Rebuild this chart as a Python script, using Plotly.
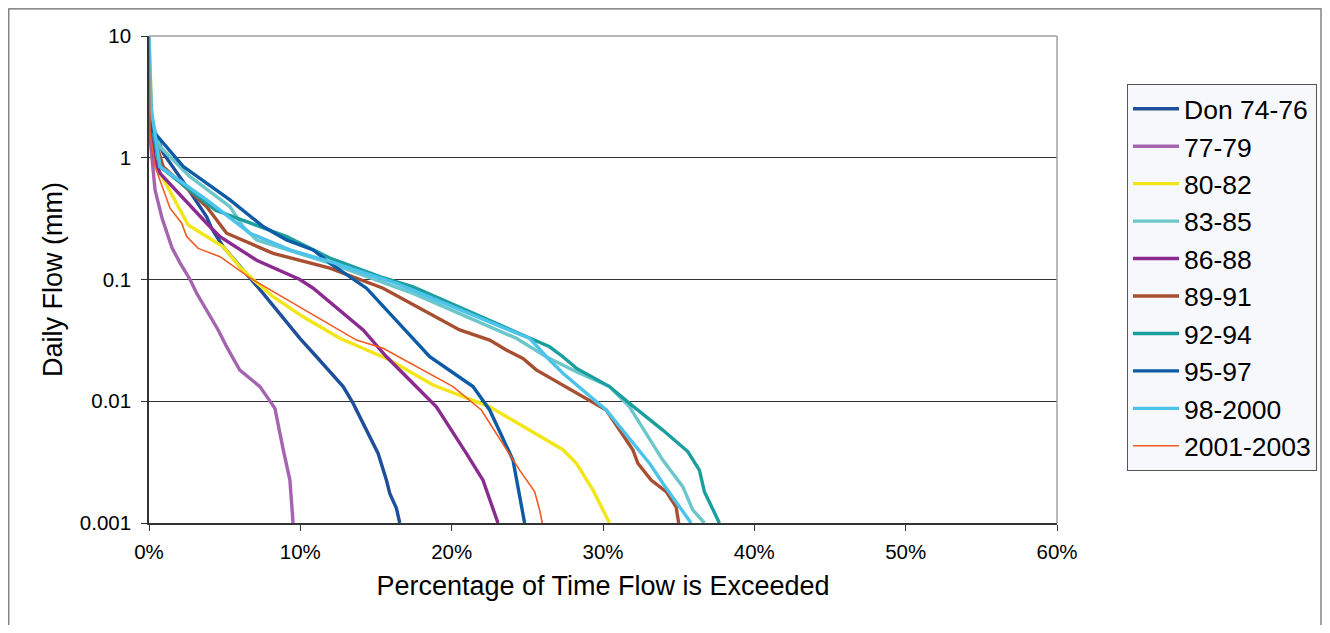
import plotly.graph_objects as go

# Flow duration curves: x = % of time flow is exceeded, y = daily flow (mm)
series_names = ["Don 74-76", "77-79", "80-82", "83-85", "86-88",
                "89-91", "92-94", "95-97", "98-2000", "2001-2003"]

don7476_x = [0, 0.18, 0.51, 0.94, 2.49, 3.81, 4.14, 4.9, 7.54, 9.97, 11.07, 12.83, 13.49, 15.14, 15.69, 15.91, 16.35, 16.57]
don7476_y = [3.5, 1.69, 1.49, 1.09, 0.578, 0.328, 0.263, 0.186, 0.077, 0.0329, 0.0232, 0.0132, 0.0096, 0.00373, 0.00225, 0.00175, 0.00132, 0.001]

s7779_x = [0, 0.07, 0.40, 0.86, 1.19, 1.52, 2.05, 2.71, 3.15, 4.57, 5.13, 6.0, 7.33, 8.32, 8.87, 9.31, 9.52]
s7779_y = [1.8, 1.48, 0.543, 0.32, 0.241, 0.182, 0.137, 0.1, 0.077, 0.0385, 0.028, 0.018, 0.0132, 0.00875, 0.004, 0.00225, 0.001]

s8082_x = [0, 0.1, 0.25, 0.51, 2.59, 4.9, 6.0, 6.88, 8.2, 10.18, 12.61, 15.91, 18.77, 22.51, 27.35, 28.23, 29.33, 30.43]
s8082_y = [10, 4.0, 1.3, 0.845, 0.28, 0.186, 0.127, 0.1, 0.0722, 0.0494, 0.0329, 0.0218, 0.0136, 0.009, 0.004, 0.0031, 0.00187, 0.001]

s8385_x = [0, 0.2, 0.73, 2.71, 5.35, 6.22, 7.11, 11.95, 17.45, 24.27, 26.25, 28.23, 30.43, 31.75, 33.95, 35.27, 35.93, 36.7]
s8385_y = [6.0, 2.0, 1.23, 0.70, 0.396, 0.272, 0.211, 0.136, 0.077, 0.0329, 0.0232, 0.0175, 0.0132, 0.009, 0.00329, 0.00199, 0.00128, 0.001]

s8688_x = [0, 0.15, 0.35, 0.73, 3.81, 4.69, 7.11, 9.97, 10.85, 14.15, 15.69, 18.99, 20.97, 22.07, 23.06]
s8688_y = [3.5, 1.6, 1.0, 0.745, 0.29, 0.225, 0.144, 0.1, 0.0848, 0.0385, 0.0232, 0.009, 0.00373, 0.00225, 0.001]

s8991_x = [0, 0.4, 0.94, 3.81, 5.13, 8.2, 11.95, 15.47, 20.53, 22.51, 23.61, 24.71, 25.59, 29.55, 30.21, 31.97, 32.3, 33.18, 34.17, 34.83, 35.0]
s8991_y = [3.0, 1.4, 0.845, 0.396, 0.24, 0.164, 0.124, 0.0848, 0.0385, 0.0318, 0.0264, 0.0225, 0.0181, 0.0096, 0.00848, 0.004, 0.0031, 0.00225, 0.00181, 0.00136, 0.001]

s9294_x = [0, 0.2, 0.7, 2.7, 4.4, 6.4, 9.1, 11.95, 15.3, 17.45, 24.27, 26.47, 27.35, 28.23, 30.43, 31.75, 33.95, 35.6, 36.37, 36.7, 37.69]
s9294_y = [4.0, 1.8, 0.85, 0.54, 0.37, 0.30, 0.225, 0.15, 0.105, 0.087, 0.0373, 0.028, 0.0232, 0.0187, 0.0132, 0.0096, 0.0058, 0.00386, 0.00272, 0.00181, 0.001]

s9597_x = [0, 0.18, 2.27, 3.81, 5.35, 7.54, 9.09, 10.85, 11.95, 14.37, 16.35, 18.55, 21.41, 22.51, 24.05, 24.82]
s9597_y = [3.5, 1.7, 0.846, 0.617, 0.45, 0.272, 0.211, 0.175, 0.136, 0.0848, 0.0464, 0.0232, 0.0132, 0.00848, 0.00329, 0.001]

s9800_x = [0, 0.15, 0.73, 3.81, 6.67, 9.31, 11.95, 16.35, 24.05, 25.15, 26.47, 27.35, 30.21, 33.07, 33.95, 35.82]
s9800_y = [10, 2.5, 0.845, 0.45, 0.24, 0.175, 0.14, 0.093, 0.0373, 0.0329, 0.0218, 0.017, 0.00848, 0.0031, 0.00212, 0.001]

s0103_x = [0, 0.07, 0.4, 1.39, 2.16, 2.49, 3.25, 4.69, 6.67, 12.83, 13.71, 15.47, 20.09, 21.96, 24.49, 25.48, 25.81, 25.99]
s0103_y = [10, 1.6, 0.845, 0.385, 0.29, 0.225, 0.18, 0.154, 0.103, 0.0373, 0.0318, 0.0272, 0.0132, 0.00848, 0.00272, 0.00181, 0.00128, 0.001]

series_x = [don7476_x, s7779_x, s8082_x, s8385_x, s8688_x, s8991_x, s9294_x, s9597_x, s9800_x, s0103_x]
series_y = [don7476_y, s7779_y, s8082_y, s8385_y, s8688_y, s8991_y, s9294_y, s9597_y, s9800_y, s0103_y]

colors = ["#1F4E9B", "#A464B0", "#F2E619", "#6CC7CB", "#8B2A90",
          "#A94F31", "#1A9E9E", "#0D5BA6", "#4CC3EA", "#F25A22"]
widths = [3.4, 3.4, 3.4, 3.4, 3.4, 3.4, 3.4, 3.4, 3.4, 1.6]

x_ticks = [0, 10, 20, 30, 40, 50, 60]
x_ticktext = ["0%", "10%", "20%", "30%", "40%", "50%", "60%"]
y_ticks = [0.001, 0.01, 0.1, 1, 10]
y_ticktext = ["0.001", "0.01", "0.1", "1", "10"]

fig = go.Figure()
for i, name in enumerate(series_names):
    fig.add_trace(go.Scatter(
        x=series_x[i], y=series_y[i], mode="lines", name=name,
        legendgroup=name,
        line=dict(color=colors[i], width=widths[i]),
    ))

# page has an 8px body margin; target coordinates are in screenshot pixels
OFF = 8
W, H = 1330 - 2 * OFF, 633 - 2 * OFF
L, T = 149 - OFF, 36 - OFF
R = W - (1057 - OFF)
B = H - (523 - OFF)
pw = W - L - R
ph = H - T - B

def px_to_paper_x(px):
    return (px - OFF - L) / pw

def py_to_paper_y(py):
    return (H - B - (py - OFF)) / ph

font_family = "Liberation Sans, Arial, sans-serif"

fig.update_layout(
    width=W, height=H,
    margin=dict(l=L, r=R, t=T, b=B, autoexpand=False),
    paper_bgcolor="white", plot_bgcolor="white",
    font=dict(family=font_family, color="black", size=20),
    showlegend=True,
    legend=dict(
        x=px_to_paper_x(1127), y=py_to_paper_y(84),
        xanchor="left", yanchor="top",
        bgcolor="#F7F8FC", bordercolor="#555555", borderwidth=1,
        font=dict(size=26.5, family=font_family, color="black"),
        tracegroupgap=0,
        itemwidth=46,
    ),
    xaxis=dict(
        range=[0, 60], tickvals=x_ticks, ticktext=x_ticktext,
        showgrid=False, zeroline=False,
        showline=True, linecolor="#333333", linewidth=1.5,
        mirror=False,
        ticks="outside", ticklen=6, tickcolor="#333333", tickwidth=1,
        ticklabelstandoff=4,
        tickfont=dict(size=20.5),
        title=dict(text="Percentage of Time Flow is Exceeded", font=dict(size=27), standoff=14),
    ),
    yaxis=dict(
        type="log", range=[-3, 1], tickvals=y_ticks, ticktext=y_ticktext,
        showgrid=True, gridcolor="#333333", gridwidth=1,
        zeroline=False,
        showline=True, linecolor="#333333", linewidth=1.5,
        ticks="outside", ticklen=6, tickcolor="#333333", tickwidth=1,
        ticklabelstandoff=6,
        tickfont=dict(size=20.5),
        title=dict(text="Daily Flow (mm)", font=dict(size=27), standoff=9),
    ),
    shapes=[
        dict(type="line", xref="paper", yref="paper", x0=0, x1=1, y0=1, y1=1,
             line=dict(color="#A0A0A0", width=1.5)),
        dict(type="line", xref="paper", yref="paper", x0=1, x1=1, y0=0, y1=1,
             line=dict(color="#A0A0A0", width=1.5)),
        dict(type="rect", xref="paper", yref="paper",
             x0=px_to_paper_x(8.8), x1=px_to_paper_x(1321),
             y0=py_to_paper_y(660), y1=py_to_paper_y(8.8),
             line=dict(color="#666666", width=1.2), layer="below"),
    ],
)

fig.write_html("out.html")
